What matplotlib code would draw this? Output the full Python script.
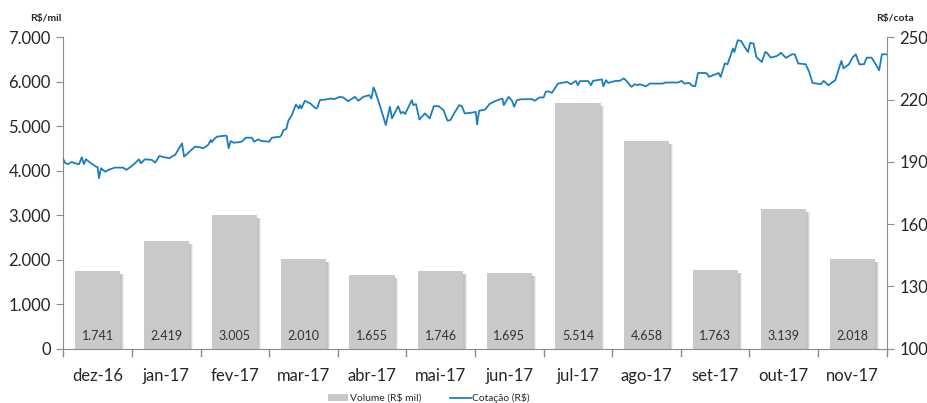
import matplotlib
matplotlib.use("Agg")
import matplotlib.pyplot as plt
from matplotlib.patches import Patch
from matplotlib.lines import Line2D
from matplotlib.ticker import FuncFormatter, FixedLocator

# monthly traded volume (R$ mil)
months = ['dez-16', 'jan-17', 'fev-17', 'mar-17', 'abr-17', 'mai-17',
          'jun-17', 'jul-17', 'ago-17', 'set-17', 'out-17', 'nov-17']
volume = [1741, 2419, 3005, 2010, 1655, 1746, 1695, 5514, 4658, 1763, 3139, 2018]

# quote (R$/cota), x in month units (0 = start of dez-16)
quote_x = [0.00, 0.03, 0.07, 0.12, 0.17, 0.23, 0.27, 0.30, 0.33, 0.39,
           0.48, 0.50, 0.52, 0.55, 0.61, 0.66, 0.75, 0.87, 0.92, 1.00,
           1.07, 1.10, 1.13, 1.19, 1.29, 1.34, 1.40, 1.47, 1.55, 1.58,
           1.63, 1.73, 1.76, 1.92, 1.99, 2.04, 2.11, 2.15, 2.16, 2.21,
           2.24, 2.36, 2.38, 2.41, 2.44, 2.48, 2.55, 2.60, 2.66, 2.75,
           2.78, 2.84, 2.89, 3.00, 3.04, 3.16, 3.18, 3.21, 3.25, 3.28,
           3.33, 3.39, 3.43, 3.45, 3.47, 3.52, 3.60, 3.68, 3.70, 3.74,
           3.84, 3.91, 3.95, 4.03, 4.08, 4.15, 4.25, 4.30, 4.37, 4.46,
           4.49, 4.52, 4.54, 4.62, 4.70, 4.76, 4.79, 4.85, 4.88, 4.92,
           4.95, 4.98, 5.08, 5.10, 5.14, 5.19, 5.27, 5.34, 5.40, 5.47,
           5.54, 5.60, 5.64, 5.71, 5.77, 5.81, 5.85, 5.98, 6.01, 6.03,
           6.06, 6.15, 6.21, 6.27, 6.33, 6.40, 6.42, 6.49, 6.54, 6.57,
           6.61, 6.66, 6.83, 6.87, 6.94, 7.00, 7.03, 7.07, 7.12, 7.21,
           7.26, 7.34, 7.40, 7.47, 7.50, 7.53, 7.65, 7.69, 7.72, 7.85,
           7.87, 7.91, 7.94, 7.99, 8.05, 8.11, 8.17, 8.21, 8.28, 8.33,
           8.37, 8.40, 8.49, 8.55, 8.70, 8.74, 8.77, 8.96, 9.01, 9.05,
           9.12, 9.17, 9.21, 9.25, 9.35, 9.38, 9.41, 9.55, 9.58, 9.64,
           9.68, 9.76, 9.78, 9.83, 9.88, 9.93, 9.98, 10.01, 10.06, 10.10,
           10.18, 10.23, 10.25, 10.31, 10.40, 10.46, 10.53, 10.62, 10.66, 10.71,
           10.82, 10.87, 10.92, 11.04, 11.08, 11.15, 11.25, 11.34, 11.37, 11.45,
           11.50, 11.55, 11.60, 11.67, 11.71, 11.78, 11.84, 11.89, 11.93, 12.00]
quote = [191.2, 189.3, 188.9, 189.9, 189.3, 188.8, 192.2, 188.9, 191.2, 189.6,
         187.6, 187.4, 182.1, 186.9, 185.2, 186.1, 187.2, 187.2, 186.1, 188.0,
         190.1, 191.2, 189.3, 191.2, 190.9, 189.6, 192.8, 192.2, 191.7, 192.5,
         193.3, 198.9, 192.5, 197.3, 197.0, 196.5, 198.1, 200.5, 199.4, 201.3,
         202.1, 202.6, 202.4, 196.5, 200.0, 199.2, 199.4, 199.7, 201.6, 201.6,
         199.7, 200.8, 200.0, 199.7, 201.6, 202.1, 202.9, 205.3, 205.8, 209.8,
         212.5, 217.6, 215.7, 217.3, 215.7, 219.4, 218.1, 215.7, 216.0, 219.7,
         220.1, 220.5, 220.2, 221.3, 221.0, 219.2, 221.3, 219.4, 221.3, 222.1,
         220.5, 225.8, 224.5, 216.5, 207.7, 216.5, 210.9, 214.9, 216.8, 213.3,
         214.1, 213.0, 219.7, 217.3, 217.8, 210.4, 213.3, 210.9, 216.8, 216.8,
         214.9, 209.8, 210.1, 214.1, 217.3, 216.8, 213.3, 213.8, 214.1, 208.0,
         214.6, 215.2, 217.8, 218.9, 219.7, 220.5, 217.3, 221.3, 219.4, 216.5,
         219.7, 220.1, 220.2, 219.4, 221.0, 221.0, 223.7, 224.0, 223.2, 227.7,
         228.0, 228.5, 227.4, 229.0, 226.9, 228.9, 228.9, 226.9, 229.0, 229.7,
         226.4, 229.3, 228.0, 228.5, 229.0, 229.0, 230.2, 228.9, 226.1, 227.4,
         226.9, 227.4, 226.4, 227.7, 227.7, 227.7, 228.2, 228.2, 229.0, 227.7,
         228.0, 226.6, 226.4, 232.8, 232.8, 232.6, 230.9, 232.8, 230.9, 237.4,
         237.0, 244.6, 242.9, 248.6, 248.2, 245.3, 242.9, 247.3, 247.0, 240.5,
         238.1, 242.9, 242.7, 240.2, 241.0, 242.5, 240.1, 241.8, 241.8, 237.4,
         237.0, 233.3, 228.0, 227.4, 229.0, 226.9, 229.3, 238.6, 235.0, 237.0,
         240.2, 241.8, 237.0, 237.0, 240.2, 240.2, 237.0, 234.1, 241.8, 241.8]

left_ticks = [0, 1000, 2000, 3000, 4000, 5000, 6000, 7000]
right_ticks = [100, 130, 160, 190, 220, 250]


def br_thousands(x, pos):
    """format with dot as thousands separator"""
    return f'{int(x):,}'.replace(',', '.')


plt.rcParams['font.family'] = ['Lato', 'DejaVu Sans']
text_col = '#262626'
spine_col = '#8c8c8c'
bar_col = '#c9c9c9'
line_col = '#1a7fbf'

fig = plt.figure(figsize=(9.28, 4.03), dpi=100)
ax = fig.add_axes([63.3 / 928, 1 - 348.5 / 403, 823.4 / 928, 311.2 / 403])
ax2 = ax.twinx()

centers = [i + 0.5 for i in range(len(months))]
# soft shadow on right side of the bars
for dx, a in [(0.055, 0.15), (0.04, 0.25), (0.025, 0.35)]:
    ax.bar([c + dx for c in centers], [v - 50 for v in volume], width=0.66,
           bottom=-15, color='#999999', alpha=a, linewidth=0, zorder=1)
ax.bar(centers, volume, width=0.66, color=bar_col, linewidth=0, zorder=2)
for c, v in zip(centers, volume):
    ax.text(c, 280, br_thousands(v, None), ha='center', va='center',
            fontsize=9, color='#333333', zorder=3)

ax.set_xlim(0, 12)
ax.set_ylim(0, 7000)
ax.set_yticks(left_ticks)
ax.yaxis.set_major_formatter(FuncFormatter(br_thousands))
ax.set_xticks(centers)
ax.set_xticklabels(months)
ax.xaxis.set_minor_locator(FixedLocator(list(range(13))))
ax.tick_params(axis='x', which='major', length=0, pad=14, labelsize=12,
               labelcolor=text_col)
ax.tick_params(axis='x', which='minor', length=6, color=spine_col, width=1)
ax.tick_params(axis='y', length=5, color=spine_col, labelsize=12,
               labelcolor=text_col, pad=4)

ax2.plot(quote_x, quote, color=line_col, linewidth=1.3, zorder=5)
ax2.set_ylim(100, 250)
ax2.set_yticks(right_ticks)
ax2.tick_params(axis='y', length=5, color=spine_col, labelsize=12,
                labelcolor=text_col, pad=4)

for a in (ax, ax2):
    a.spines['top'].set_visible(False)
    for s in ('left', 'right', 'bottom'):
        a.spines[s].set_color(spine_col)
ax.spines['right'].set_visible(False)
ax2.spines['left'].set_visible(False)
ax2.spines['bottom'].set_visible(False)

fig.text(30 / 928, 1 - 18 / 403, 'R$/mil', fontsize=7.5, fontweight='bold',
         color=text_col, va='center', ha='left')
fig.text(876 / 928, 1 - 18 / 403, 'R$/cota', fontsize=7.5, fontweight='bold',
         color=text_col, va='center', ha='left')

handles = [Patch(facecolor=bar_col, edgecolor='none'),
           Line2D([0], [0], color=line_col, linewidth=1.3)]
fig.legend(handles, ['Volume (R$ mil)', 'Cotação (R$)'], loc='center',
           bbox_to_anchor=(0.462, 0.0124), ncol=2, frameon=False,
           fontsize=7.4, handlelength=2.0, handleheight=0.6,
           handletextpad=0.15, columnspacing=2.8, labelcolor=text_col,
           borderpad=0)

fig.savefig('out.png', dpi=100)
